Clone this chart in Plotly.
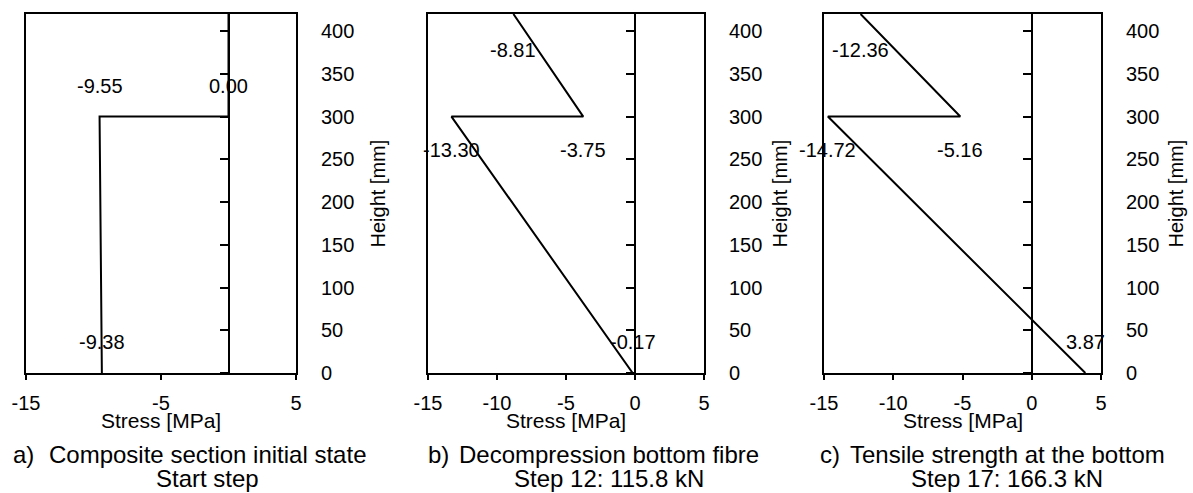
import plotly.graph_objects as go

W, H = 1193, 493

# Section heights [mm] at the stress profile vertices
heights = [0, 300, 300, 420]

# Stress [MPa] at each vertex for the three load stages
stress_a = [-9.38, -9.55, 0.00, 0.00]
stress_b = [-0.17, -13.30, -3.75, -8.81]
stress_c = [3.87, -14.72, -5.16, -12.36]

# Which vertices carry a value label, and the label's vertical offset (px)
label_idx_a = [0, 1, 2]
label_shift_a = [31, 31, 31]
label_idx_b = [0, 1, 2, 3]
label_shift_b = [31, -33, -33, -36]
label_idx_c = [0, 1, 2, 3]
label_shift_c = [31, -33, -33, -36]

captions = [
    ("a)", "Composite section initial state", "Start step"),
    ("b)", "Decompression bottom fibre", "Step 12: 115.8 kN"),
    ("c)", "Tensile strength at the bottom", "Step 17: 166.3 kN"),
]

x_ticks_a = [-15, -5, 5]
x_ticks_bc = [-15, -10, -5, 0, 5]
y_ticks = [0, 50, 100, 150, 200, 250, 300, 350, 400]

X_RANGE = [-15, 5]
Y_RANGE = [0, 420]

FONT = "Arial, Liberation Sans, sans-serif"
TICK_SIZE = 20
LABEL_SIZE = 20
STRESS_TITLE_SIZE = 21
HEIGHT_TITLE_SIZE = 20
CAPTION_SIZE = 24

# Plot-area placement in pixels
panel_px = [(26, 296), (428, 704), (824, 1101)]
plot_top, plot_bottom = 14, 373
height_title_x = [377, 779, 1175]
caption_tag_x = [12, 427, 819]
caption_center_x = [207, 609, 1007]


def px(x):
    return x / W


def py(y):
    return 1 - y / H


def tick_text(vals):
    return [f"{v:g}" for v in vals]


panels = [
    (stress_a, label_idx_a, label_shift_a, x_ticks_a),
    (stress_b, label_idx_b, label_shift_b, x_ticks_bc),
    (stress_c, label_idx_c, label_shift_c, x_ticks_bc),
]

fig = go.Figure()
layout = dict(
    width=W,
    height=H,
    margin=dict(l=0, r=0, t=0, b=0, autoexpand=False),
    paper_bgcolor="white",
    plot_bgcolor="white",
    showlegend=False,
    font=dict(family=FONT, color="black", size=TICK_SIZE),
)
annotations = []

for i, (stress, lidx, lshift, xticks) in enumerate(panels):
    n = i + 1
    xname = "x" if n == 1 else f"x{n}"
    ya = 2 * i + 1
    yb = 2 * i + 2
    yname_a = "y" if ya == 1 else f"y{ya}"
    yname_b = f"y{yb}"
    x0, x1 = panel_px[i]
    dom = [px(x0), px(x1)]
    zero_pos = px(x0 + (0 - X_RANGE[0]) / (X_RANGE[1] - X_RANGE[0]) * (x1 - x0))

    # Stress profile
    fig.add_trace(
        go.Scatter(
            x=stress,
            y=heights,
            mode="lines",
            line=dict(color="black", width=2),
            xaxis=xname,
            yaxis=yname_a,
            hoverinfo="skip",
        )
    )
    # Empty trace so the zero-stress axis gets its own overlay
    fig.add_trace(
        go.Scatter(
            x=[None],
            y=[None],
            mode="lines",
            xaxis=xname,
            yaxis=yname_b,
            hoverinfo="skip",
        )
    )

    layout[f"xaxis{'' if n == 1 else n}"] = dict(
        domain=dom,
        range=X_RANGE,
        tickvals=xticks,
        ticktext=tick_text(xticks),
        ticks="outside",
        ticklen=5,
        tickwidth=2,
        tickcolor="black",
        showline=True,
        linecolor="black",
        linewidth=2,
        mirror=True,
        showgrid=False,
        zeroline=False,
        automargin=False,
        anchor=yname_a,
        tickfont=dict(size=TICK_SIZE),
        ticklabelstandoff=6,
    )
    # Frame sides with the height tick labels on the right
    layout[f"yaxis{'' if ya == 1 else ya}"] = dict(
        domain=[py(plot_bottom), py(plot_top)],
        range=Y_RANGE,
        tickvals=y_ticks,
        ticktext=tick_text(y_ticks),
        anchor=xname,
        side="right",
        ticks="",
        showticklabels=True,
        showline=True,
        linecolor="black",
        linewidth=2,
        mirror=True,
        showgrid=False,
        zeroline=False,
        automargin=False,
        tickfont=dict(size=TICK_SIZE),
        ticklabelstandoff=19,
    )
    # Axis through zero stress, ticks only
    layout[f"yaxis{yb}"] = dict(
        range=Y_RANGE,
        tickvals=y_ticks,
        overlaying=yname_a,
        anchor="free",
        position=zero_pos,
        side="left",
        ticks="outside",
        ticklen=8,
        tickwidth=2,
        tickcolor="black",
        showticklabels=False,
        showline=True,
        linecolor="black",
        linewidth=2,
        showgrid=False,
        zeroline=False,
        automargin=False,
    )

    # Value labels at the vertices
    for k, s in zip(lidx, lshift):
        annotations.append(
            dict(
                x=stress[k],
                y=heights[k],
                xref=xname,
                yref=yname_a,
                text=f"{stress[k]:.2f}",
                showarrow=False,
                yshift=s,
                font=dict(size=LABEL_SIZE),
                xanchor="center",
                yanchor="middle",
            )
        )

    # Axis titles
    annotations.append(
        dict(
            x=px((x0 + x1) / 2), y=py(420), xref="paper", yref="paper",
            text="Stress [MPa]", showarrow=False,
            font=dict(size=STRESS_TITLE_SIZE), xanchor="center", yanchor="middle",
        )
    )
    annotations.append(
        dict(
            x=px(height_title_x[i]), y=py((plot_top + plot_bottom) / 2),
            xref="paper", yref="paper", text="Height [mm]", textangle=-90,
            showarrow=False, font=dict(size=HEIGHT_TITLE_SIZE),
            xanchor="center", yanchor="middle",
        )
    )

    # Captions
    tag, line1, line2 = captions[i]
    cap_font = dict(size=CAPTION_SIZE)
    annotations.append(
        dict(
            x=px(caption_tag_x[i]), y=py(454), xref="paper", yref="paper",
            text=tag, showarrow=False, font=cap_font, borderpad=0,
            xanchor="left", yanchor="middle",
        )
    )
    annotations.append(
        dict(
            x=px(caption_center_x[i]), y=py(454), xref="paper", yref="paper",
            text=line1, showarrow=False, font=cap_font, borderpad=0,
            xanchor="center", yanchor="middle",
        )
    )
    annotations.append(
        dict(
            x=px(caption_center_x[i]), y=0, xref="paper", yref="paper",
            text=line2, showarrow=False, font=cap_font, borderpad=0,
            xanchor="center", yanchor="bottom",
        )
    )

layout["annotations"] = annotations
fig.update_layout(**layout)
fig.write_html("out.html")
